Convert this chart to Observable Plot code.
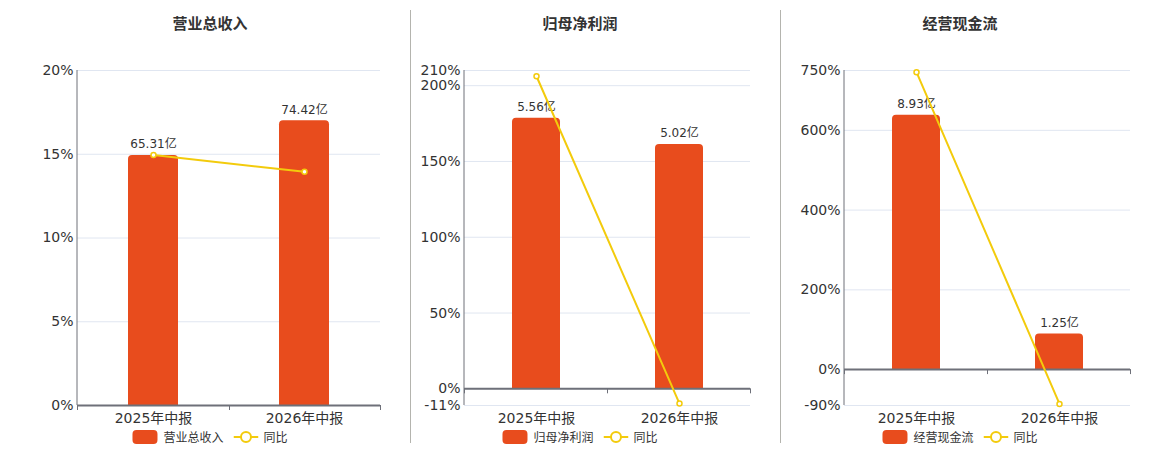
<!DOCTYPE html>
<html>
<head>
<meta charset="utf-8">
<script src="https://cdn.jsdelivr.net/npm/d3@7"></script>
<script src="https://cdn.jsdelivr.net/npm/@observablehq/plot@0.6"></script>
<style>
  html, body { margin: 0; padding: 0; background: #fff; }
  body { width: 1160px; height: 450px; position: relative; overflow: hidden;
         font-family: "DejaVu Sans", "Noto Sans CJK SC", sans-serif; }
  .title { position: absolute; top: 12px; font-size: 15px; font-weight: bold; color: #333;
           font-family: "Noto Sans CJK SC", sans-serif; transform: translateX(-50%); white-space: nowrap; }
  .sep { position: absolute; top: 10px; width: 1px; height: 433px; background: #b4b4ae; }
  .legend { position: absolute; top: 428px; transform: translateX(-50%); display: flex; align-items: center;
            font-size: 12px; color: #333; font-family: "Noto Sans CJK SC", sans-serif; white-space: nowrap; z-index: 2; }
  .legend .sw { width: 25px; height: 14px; border-radius: 4px; background: #E84C1D; margin-right: 6px; }
  .legend svg { margin-left: 10px; margin-right: 5px; }
  .plotwrap { position: absolute; top: 40px; }
</style>
</head>
<body>
<script>
const categories = ["2025年中报", "2026年中报"];
const revenue = [65.31, 74.42];
const revenueYoY = [14.96, 13.95];
const profit = [5.56, 5.02];
const profitYoY = [206.2, -9.71];
const cashflow = [8.93, 1.25];
const cashflowYoY = [745.7, -86.0];
const titles = ["营业总收入", "归母净利润", "经营现金流"];
const seriesValues = [revenue, profit, cashflow];
const seriesYoY = [revenueYoY, profitYoY, cashflowYoY];
const yDomains = [[0, 20], [-11, 210], [-90, 750]];
const yTicks = [[0, 5, 10, 15, 20], [-11, 0, 50, 100, 150, 200, 210], [-90, 0, 200, 400, 600, 750]];

const BAR = "#E84C1D";
const LINE = "#F3CB0C";
const AXIS = "#6E7079";
const GRID = "#E0E6F1";

const layout = [
  {left: 0, width: 410, ml: 77, center: 210},
  {left: 411, width: 369, ml: 53, center: 580},
  {left: 781, width: 379, ml: 63, center: 960}
];
const MT = 30, MB = 30, H = 395, MR = 30;

function axisDecor(yZero) {
  return (index, scales, values, dims) => {
    const g = d3.create("svg:g");
    const x0 = dims.marginLeft, x1 = dims.width - dims.marginRight;
    const y0 = dims.marginTop, y1 = dims.height - dims.marginBottom;
    g.append("line").attr("x1", x0).attr("x2", x0).attr("y1", y0).attr("y2", y1)
      .attr("stroke", AXIS).attr("stroke-width", 1);
    const yz = scales.y(yZero);
    const n = categories.length;
    for (let k = 0; k <= n; k++) {
      const xx = Math.round(x0 + k * (x1 - x0) / n) + 0.5;
      g.append("line").attr("x1", xx).attr("x2", xx).attr("y1", yz).attr("y2", yz + 5)
        .attr("stroke", AXIS).attr("stroke-width", 1);
    }
    return g.node();
  };
}

titles.forEach((title, i) => {
  const L = layout[i];
  const vals = seriesValues[i];
  const yoy = seriesYoY[i];
  const dom = yDomains[i];
  // bars use a hidden secondary axis: the tallest bar reaches 85% of the positive range
  const k = 0.85 * dom[1] / d3.max(vals);
  const data = categories.map((c, j) => ({cat: c, value: vals[j], bar: vals[j] * k, yoy: yoy[j]}));

  const plot = Plot.plot({
    width: L.width,
    height: H,
    marginLeft: L.ml,
    marginRight: MR,
    marginTop: MT,
    marginBottom: MB,
    style: {fontFamily: "'DejaVu Sans', 'Noto Sans CJK SC', sans-serif", fontSize: "14px", color: "#333", background: "transparent"},
    x: {domain: categories, paddingInner: 2/3, paddingOuter: 1/3, label: null},
    y: {domain: dom, label: null},
    marks: [
      Plot.gridY(yTicks[i], {stroke: GRID, strokeOpacity: 1}),
      Plot.barY(data, {x: "cat", y1: 0, y2: "bar", fill: BAR, ry1: 4}),
      Plot.ruleY([0], {stroke: AXIS, strokeWidth: 2}),
      axisDecor(0),
      Plot.axisY({ticks: yTicks[i], tickSize: 0, tickPadding: 4, tickFormat: d => d + "%", fontSize: 14, fill: "#333"}),
      Plot.axisX({tickSize: 0, tickPadding: 8, fontSize: 14, fill: "#333", label: null}),
      Plot.text(data, {x: "cat", y: "bar", text: d => d.value.toFixed(2) + "亿", dy: -11, fontSize: 12, fill: "#333",
                       fontFamily: "'DejaVu Sans', 'Noto Sans CJK SC', sans-serif"}),
      Plot.line(data, {x: "cat", y: "yoy", stroke: LINE, strokeWidth: 2}),
      Plot.dot(data, {x: "cat", y: "yoy", r: 2.5, fill: "#fff", stroke: LINE, strokeWidth: 1.5})
    ]
  });

  const wrap = document.createElement("div");
  wrap.className = "plotwrap";
  wrap.style.left = L.left + "px";
  wrap.appendChild(plot);
  document.body.appendChild(wrap);

  const t = document.createElement("div");
  t.className = "title";
  t.style.left = L.center + "px";
  t.textContent = title;
  document.body.appendChild(t);

  const lg = document.createElement("div");
  lg.className = "legend";
  lg.style.left = L.center + "px";
  lg.innerHTML = `<div class="sw"></div><span>${title}</span>` +
    `<svg width="25" height="14"><line x1="0" x2="25" y1="7" y2="7" stroke="${LINE}" stroke-width="2"/>` +
    `<circle cx="12.5" cy="7" r="5" fill="#fff" stroke="${LINE}" stroke-width="2"/></svg><span>同比</span>`;
  document.body.appendChild(lg);
});

[410, 780].forEach(x => {
  const s = document.createElement("div");
  s.className = "sep";
  s.style.left = x + "px";
  document.body.appendChild(s);
});
</script>
</body>
</html>
